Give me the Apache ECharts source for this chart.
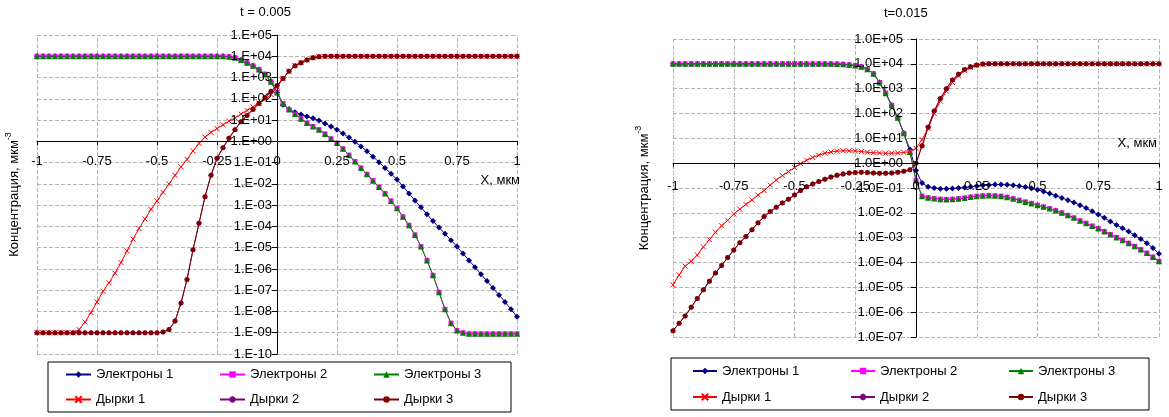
<!DOCTYPE html>
<html>
<head>
<meta charset="utf-8">
<script src="https://cdn.jsdelivr.net/npm/echarts@6/dist/echarts.min.js"></script>
<style>
  html, body { margin: 0; padding: 0; background: #fff; }
  #chart { width: 1169px; height: 417px; }
</style>
</head>
<body>
<div id="chart"></div>
<script>
// X, мкм
const xValues = [
  -1, -0.975, -0.95, -0.925, -0.9, -0.875, -0.85, -0.825, -0.8, -0.775,
  -0.75, -0.725, -0.7, -0.675, -0.65, -0.625, -0.6, -0.575, -0.55, -0.525,
  -0.5, -0.475, -0.45, -0.425, -0.4, -0.375, -0.35, -0.325, -0.3, -0.275,
  -0.25, -0.225, -0.2, -0.175, -0.15, -0.125, -0.1, -0.075, -0.05, -0.025,
  0, 0.025, 0.05, 0.075, 0.1, 0.125, 0.15, 0.175, 0.2, 0.225,
  0.25, 0.275, 0.3, 0.325, 0.35, 0.375, 0.4, 0.425, 0.45, 0.475,
  0.5, 0.525, 0.55, 0.575, 0.6, 0.625, 0.65, 0.675, 0.7, 0.725,
  0.75, 0.775, 0.8, 0.825, 0.85, 0.875, 0.9, 0.925, 0.95, 0.975,
  1
];

// all series: log10 of concentration (мкм^-3)
// t = 0.005
const elec1Left = [
  4, 4, 4, 4, 4, 4, 4, 4, 4, 4,
  4, 4, 4, 4, 4, 4, 4, 4, 4, 4,
  4, 4, 4, 4, 4, 4, 4, 4, 4, 4,
  4, 4, 3.98, 3.93, 3.82, 3.7, 3.55, 3.38, 3.15, 2.8,
  2.3, 1.72, 1.52, 1.37, 1.26, 1.17, 1.08, 0.98, 0.84, 0.7,
  0.55, 0.37, 0.18, -0.02, -0.24, -0.47, -0.72, -0.98, -1.25, -1.52,
  -1.8, -2.12, -2.45, -2.78, -3.1, -3.43, -3.75, -4.05, -4.35, -4.65,
  -4.95, -5.28, -5.6, -5.92, -6.25, -6.57, -6.9, -7.22, -7.55, -7.9,
  -8.25
];
const elec2Left = [
  4, 4, 4, 4, 4, 4, 4, 4, 4, 4,
  4, 4, 4, 4, 4, 4, 4, 4, 4, 4,
  4, 4, 4, 4, 4, 4, 4, 4, 4, 4,
  4, 4, 3.98, 3.93, 3.82, 3.7, 3.55, 3.38, 3.15, 2.8,
  2.3, 1.78, 1.5, 1.28, 1.06, 0.86, 0.7, 0.55, 0.35, 0.12,
  -0.08, -0.35, -0.65, -0.95, -1.25, -1.55, -1.85, -2.15, -2.45, -2.8,
  -3.15, -3.55, -3.95, -4.4, -4.95, -5.6, -6.3, -7.1, -7.9, -8.55,
  -8.9, -9, -9.05, -9.05, -9.05, -9.05, -9.05, -9.05, -9.05, -9.05,
  -9.05
];
const elec3Left = [
  4, 4, 4, 4, 4, 4, 4, 4, 4, 4,
  4, 4, 4, 4, 4, 4, 4, 4, 4, 4,
  4, 4, 4, 4, 4, 4, 4, 4, 4, 4,
  4, 4, 3.98, 3.93, 3.82, 3.7, 3.55, 3.38, 3.15, 2.8,
  2.3, 1.78, 1.5, 1.28, 1.06, 0.86, 0.7, 0.55, 0.35, 0.12,
  -0.08, -0.35, -0.65, -0.95, -1.25, -1.55, -1.85, -2.15, -2.45, -2.8,
  -3.15, -3.55, -3.95, -4.4, -4.95, -5.6, -6.3, -7.1, -7.9, -8.55,
  -8.9, -9, -9.05, -9.05, -9.05, -9.05, -9.05, -9.05, -9.05, -9.05,
  -9.05
];
const hole1Left = [
  -9, -9, -9, -9, -9, -9, -9, -8.85, -8.5, -8.05,
  -7.55, -7.05, -6.65, -6.2, -5.7, -5.15, -4.6, -4.1, -3.65, -3.2,
  -2.8, -2.4, -2, -1.6, -1.2, -0.85, -0.45, -0.1, 0.2, 0.42,
  0.6, 0.78, 0.95, 1.1, 1.28, 1.45, 1.62, 1.8, 1.98, 2.2,
  2.55, 2.95, 3.3, 3.55, 3.7, 3.83, 3.93, 3.98, 4, 4,
  4, 4, 4, 4, 4, 4, 4, 4, 4, 4,
  4, 4, 4, 4, 4, 4, 4, 4, 4, 4,
  4, 4, 4, 4, 4, 4, 4, 4, 4, 4,
  4
];
const hole2Left = [
  -9, -9, -9, -9, -9, -9, -9, -9, -9, -9,
  -9, -9, -9, -9, -9, -9, -9, -9, -9, -9,
  -9, -8.97, -8.85, -8.45, -7.6, -6.5, -5.1, -3.85, -2.6, -1.6,
  -0.8, -0.3, 0.15, 0.55, 0.92, 1.22, 1.5, 1.78, 2.05, 2.35,
  2.62, 2.95, 3.3, 3.55, 3.7, 3.83, 3.93, 3.98, 4, 4,
  4, 4, 4, 4, 4, 4, 4, 4, 4, 4,
  4, 4, 4, 4, 4, 4, 4, 4, 4, 4,
  4, 4, 4, 4, 4, 4, 4, 4, 4, 4,
  4
];
const hole3Left = [
  -9, -9, -9, -9, -9, -9, -9, -9, -9, -9,
  -9, -9, -9, -9, -9, -9, -9, -9, -9, -9,
  -9, -8.97, -8.85, -8.45, -7.6, -6.5, -5.1, -3.85, -2.6, -1.6,
  -0.8, -0.3, 0.15, 0.55, 0.92, 1.22, 1.5, 1.78, 2.05, 2.35,
  2.62, 2.95, 3.3, 3.55, 3.7, 3.83, 3.93, 3.98, 4, 4,
  4, 4, 4, 4, 4, 4, 4, 4, 4, 4,
  4, 4, 4, 4, 4, 4, 4, 4, 4, 4,
  4, 4, 4, 4, 4, 4, 4, 4, 4, 4,
  4
];

// t = 0.015
const elec1Right = [
  4, 4, 4, 4, 4, 4, 4, 4, 4, 4,
  4, 4, 4, 4, 4, 4, 4, 4, 4, 4,
  4, 4, 4, 4, 4, 4, 4, 3.99, 3.98, 3.96,
  3.93, 3.88, 3.78, 3.6, 3.25, 2.82, 2.33, 1.83, 1.2, 0.55,
  -0.3, -0.8, -0.95, -1, -1.03, -1.03, -1.02, -1, -0.98, -0.95,
  -0.92, -0.9, -0.88, -0.86, -0.86, -0.87, -0.89, -0.92, -0.96, -1.01,
  -1.07, -1.14, -1.22, -1.31, -1.4, -1.49, -1.58, -1.69, -1.81, -1.94,
  -2.07, -2.2, -2.35, -2.49, -2.62, -2.75, -2.9, -3.05, -3.22, -3.42,
  -3.65
];
const elec2Right = [
  4, 4, 4, 4, 4, 4, 4, 4, 4, 4,
  4, 4, 4, 4, 4, 4, 4, 4, 4, 4,
  4, 4, 4, 4, 4, 4, 4, 3.99, 3.98, 3.96,
  3.93, 3.88, 3.78, 3.6, 3.25, 2.82, 2.33, 1.83, 1.2, 0.45,
  -0.7, -1.33, -1.39, -1.42, -1.45, -1.46, -1.45, -1.43, -1.4, -1.36,
  -1.33, -1.31, -1.3, -1.31, -1.33, -1.37, -1.43, -1.49, -1.56, -1.62,
  -1.69, -1.76, -1.83, -1.91, -2, -2.1, -2.2, -2.32, -2.42, -2.53,
  -2.63, -2.75, -2.87, -2.99, -3.1, -3.22, -3.35, -3.48, -3.62, -3.78,
  -3.95
];
const elec3Right = [
  4, 4, 4, 4, 4, 4, 4, 4, 4, 4,
  4, 4, 4, 4, 4, 4, 4, 4, 4, 4,
  4, 4, 4, 4, 4, 4, 4, 3.99, 3.98, 3.96,
  3.93, 3.88, 3.78, 3.6, 3.25, 2.82, 2.33, 1.83, 1.2, 0.45,
  -0.7, -1.33, -1.39, -1.42, -1.45, -1.46, -1.45, -1.43, -1.4, -1.36,
  -1.33, -1.31, -1.3, -1.31, -1.33, -1.37, -1.43, -1.49, -1.56, -1.62,
  -1.69, -1.76, -1.83, -1.91, -2, -2.1, -2.2, -2.32, -2.42, -2.53,
  -2.63, -2.75, -2.87, -2.99, -3.1, -3.22, -3.35, -3.48, -3.62, -3.78,
  -3.95
];
const hole1Right = [
  -4.9, -4.5, -4.15, -3.95, -3.7, -3.37, -3.08, -2.78, -2.52, -2.3,
  -2.05, -1.85, -1.66, -1.48, -1.28, -1.1, -0.88, -0.68, -0.5, -0.34,
  -0.18, -0.02, 0.12, 0.23, 0.32, 0.4, 0.45, 0.48, 0.5, 0.5,
  0.49, 0.47, 0.44, 0.42, 0.41, 0.4, 0.4, 0.41, 0.43, 0.47,
  0.6, 0.95, 1.4, 2, 2.5, 2.9, 3.25, 3.52, 3.72, 3.85,
  3.93, 3.98, 4, 4, 4, 4, 4, 4, 4, 4,
  4, 4, 4, 4, 4, 4, 4, 4, 4, 4,
  4, 4, 4, 4, 4, 4, 4, 4, 4, 4,
  4
];
const hole2Right = [
  -6.75, -6.45, -6.15, -5.8, -5.45, -5.1, -4.75, -4.42, -4.12, -3.8,
  -3.5, -3.2, -2.95, -2.68, -2.4, -2.15, -1.95, -1.78, -1.6, -1.45,
  -1.28, -1.1, -0.95, -0.84, -0.74, -0.65, -0.56, -0.49, -0.44, -0.4,
  -0.38, -0.37, -0.38, -0.4, -0.41, -0.41, -0.4, -0.37, -0.33, -0.27,
  0, 0.7, 1.45, 2.1, 2.6, 3, 3.35, 3.58, 3.77, 3.88,
  3.95, 3.99, 4, 4, 4, 4, 4, 4, 4, 4,
  4, 4, 4, 4, 4, 4, 4, 4, 4, 4,
  4, 4, 4, 4, 4, 4, 4, 4, 4, 4,
  4
];
const hole3Right = [
  -6.75, -6.45, -6.15, -5.8, -5.45, -5.1, -4.75, -4.42, -4.12, -3.8,
  -3.5, -3.2, -2.95, -2.68, -2.4, -2.15, -1.95, -1.78, -1.6, -1.45,
  -1.28, -1.1, -0.95, -0.84, -0.74, -0.65, -0.56, -0.49, -0.44, -0.4,
  -0.38, -0.37, -0.38, -0.4, -0.41, -0.41, -0.4, -0.37, -0.33, -0.27,
  0, 0.7, 1.45, 2.1, 2.6, 3, 3.35, 3.58, 3.77, 3.88,
  3.95, 3.99, 4, 4, 4, 4, 4, 4, 4, 4,
  4, 4, 4, 4, 4, 4, 4, 4, 4, 4,
  4, 4, 4, 4, 4, 4, 4, 4, 4, 4,
  4
];

const seriesNames = ['Электроны 1', 'Электроны 2', 'Электроны 3', 'Дырки 1', 'Дырки 2', 'Дырки 3'];
const titles = ['t = 0.005', 't=0.015'];

const FONT = '"Liberation Sans", Arial, sans-serif';
const GRID_STYLE = { color: '#b4b4b4', width: 1, type: 'dashed' };
const colors = ['#000080', '#ff00ff', '#008000', '#ff0000', '#800080', '#800000'];
const symbols = [
  'diamond', 'rect', 'triangle',
  'path://M0,0L10,10M10,0L0,10',
  'path://M5,0L5,10M0,5L10,5M1.5,1.5L8.5,8.5M8.5,1.5L1.5,8.5',
  'circle'
];
const symbolSizes = [6, 5, 6, 5, 5, 5];
const strokedSymbol = [false, false, false, true, true, false];

// plot boxes of the two panels
const grids = [
  { left: 37, top: 35, width: 480, height: 319, yMin: -10 },
  { left: 673, top: 39, width: 486, height: 298, yMin: -7 }
];
const Y_MAX = 5;

const chart = echarts.init(document.getElementById('chart'));

const toPairs = (ys) => xValues.map((x, i) => [x, ys[i]]);

const makeSeries = (idx, arrays) => arrays.map((ys, k) => ({
  name: seriesNames[k],
  type: 'line',
  xAxisIndex: idx,
  yAxisIndex: idx,
  data: toPairs(ys),
  symbol: symbols[k],
  symbolSize: symbolSizes[k],
  lineStyle: { color: colors[k], width: 1 },
  itemStyle: strokedSymbol[k]
    ? { color: 'none', borderColor: colors[k], borderWidth: 1 }
    : { color: colors[k], borderWidth: 0 },
  emphasis: { disabled: true },
  z: 3,
  animation: false
}));

const logLabel = (mantissa) => (v) =>
  mantissa + 'E' + (v < 0 ? '-' : '+') + String(Math.abs(v)).padStart(2, '0');

// axes cross like in Excel: X axis at 1.E+00, Y axis at x = 0
const xAxisFor = (idx, labelMargin, nameStyle) => {
  const g = grids[idx];
  return {
    gridIndex: idx,
    type: 'value',
    min: -1,
    max: 1,
    interval: 0.25,
    position: 'bottom',
    offset: -g.height * (0 - g.yMin) / (Y_MAX - g.yMin),
    axisLine: { onZero: false, lineStyle: { color: '#000', width: 1 } },
    axisTick: { show: true, length: 4, lineStyle: { color: '#000' } },
    axisLabel: { margin: labelMargin, fontSize: 13, color: '#000', fontFamily: FONT, showMinLabel: true, showMaxLabel: true },
    splitLine: { show: false },
    name: 'X, мкм',
    nameLocation: 'end',
    nameGap: nameStyle.gap,
    nameMoveOverlap: false,
    nameTextStyle: Object.assign({ fontSize: 13, color: '#000', fontFamily: FONT, align: 'right' }, nameStyle.text),
    z: 4
  };
};

const yAxisFor = (idx, mantissa, labelMargin, nameGap) => {
  const g = grids[idx];
  return {
    gridIndex: idx,
    type: 'value',
    min: g.yMin,
    max: Y_MAX,
    interval: 1,
    position: 'left',
    offset: -g.width / 2,
    axisLine: { onZero: false, lineStyle: { color: '#000', width: 1 } },
    axisTick: { show: true, length: 5, lineStyle: { color: '#000' } },
    axisLabel: { margin: labelMargin, fontSize: 13, color: '#000', fontFamily: FONT, formatter: logLabel(mantissa) },
    splitLine: { show: false },
    name: 'Концентрация, мкм{sup|-3}',
    nameLocation: 'middle',
    nameGap: nameGap,
    nameMoveOverlap: false,
    nameTextStyle: {
      fontSize: 13, color: '#000', fontFamily: FONT, lineHeight: 20,
      rich: { sup: { fontSize: 9, color: '#000', fontFamily: FONT, verticalAlign: 'top' } }
    },
    z: 4
  };
};

// hidden axes on copies of the two boxes (grid 2 and 3): their inside ticks,
// as long as the box, make the dashed grid
const gridXAxis = (idx) => ({
  gridIndex: idx + 2, type: 'value', min: -1, max: 1, interval: 0.25, position: 'bottom',
  axisLine: { show: false, onZero: false }, axisLabel: { show: false },
  axisTick: { show: true, inside: true, length: grids[idx].height, lineStyle: GRID_STYLE },
  splitLine: { show: false }, z: 1
});
const gridYAxis = (idx) => ({
  gridIndex: idx + 2, type: 'value', min: grids[idx].yMin, max: Y_MAX, interval: 1, position: 'left',
  axisLine: { show: false, onZero: false }, axisLabel: { show: false },
  axisTick: { show: true, inside: true, length: grids[idx].width, lineStyle: GRID_STYLE },
  splitLine: { show: false }, z: 1
});

const legendFor = (box) => ({
  left: box.left,
  top: box.top,
  width: box.width,
  orient: 'horizontal',
  padding: box.padding,
  borderColor: '#000',
  borderWidth: 1,
  itemGap: 10,
  itemWidth: box.itemWidth,
  itemHeight: 8,
  selectedMode: false,
  textStyle: { fontSize: 13, color: '#000', fontFamily: FONT, lineHeight: box.lineHeight, width: box.textWidth },
  data: seriesNames.map((n, k) => (k % 3 === 2 ? { name: n, textStyle: { width: 80 } } : { name: n }))
});

const gridBox = (g) => ({
  left: g.left, top: g.top, width: g.width, height: g.height,
  outerBoundsMode: 'none', containLabel: false, show: false
});

chart.setOption({
  backgroundColor: '#fff',
  animation: false,
  title: [
    { text: titles[0], left: 240, top: 6, padding: 0, textStyle: { fontSize: 13, fontWeight: 'normal', color: '#000', fontFamily: FONT } },
    { text: titles[1], left: 884, top: 7, padding: 0, textStyle: { fontSize: 13, fontWeight: 'normal', color: '#000', fontFamily: FONT } }
  ],
  grid: [gridBox(grids[0]), gridBox(grids[1]), gridBox(grids[0]), gridBox(grids[1])],
  xAxis: [
    xAxisFor(0, 14, { gap: 3, text: { verticalAlign: 'top', padding: [33, 0, 0, 0] } }),
    xAxisFor(1, 17, { gap: -2, text: { verticalAlign: 'bottom', padding: [0, 0, 13, 0] } }),
    gridXAxis(0),
    gridXAxis(1)
  ],
  yAxis: [
    yAxisFor(0, '1.', 5, 253),
    yAxisFor(1, '1.0', 13, 262),
    gridYAxis(0),
    gridYAxis(1)
  ],
  legend: [
    legendFor({ left: 48, top: 362, width: 420, padding: [5, 27, 5, 17], itemWidth: 25, lineHeight: 15, textWidth: 113 }),
    legendFor({ left: 671, top: 358, width: 428, padding: [5, 31, 5, 21], itemWidth: 24, lineHeight: 16, textWidth: 118 })
  ],
  series: [
    ...makeSeries(0, [elec1Left, elec2Left, elec3Left, hole1Left, hole2Left, hole3Left]),
    ...makeSeries(1, [elec1Right, elec2Right, elec3Right, hole1Right, hole2Right, hole3Right])
  ]
});

window.addEventListener('resize', () => chart.resize());
</script>
</body>
</html>
